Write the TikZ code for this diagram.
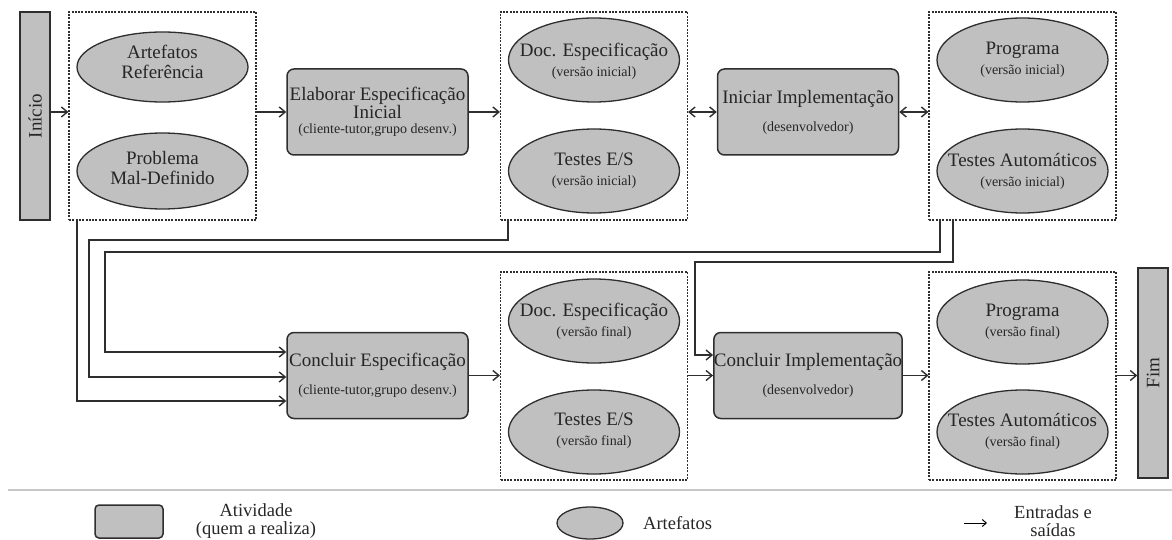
\documentclass[tikz,border=0pt]{standalone}
\usepackage{fontspec}
\setmainfont{Liberation Serif}
\usetikzlibrary{arrows.meta,shapes.geometric,calc}
\definecolor{boxgray}{HTML}{C0C0C0}
\definecolor{ink}{HTML}{2E2E2E}
\newcommand\mainsz{\fontsize{19}{20}\selectfont}
\newcommand\subsz{\fontsize{14}{16}\selectfont}
\newcommand\legsz{\fontsize{18.5}{18}\selectfont}

\begin{document}
\begin{tikzpicture}[x=1pt,y=-1pt,
  tip/.tip={Straight Barb[length=6pt,width=10pt]},
  arr/.style={draw=ink, line width=1.4pt, -tip},
  darr/.style={draw=ink, line width=1.4pt, tip-tip},
  link/.style={draw=ink, line width=1.4pt, -tip},
  group/.style={draw=ink, line width=1.1pt, dash pattern=on 2pt off 1.3pt,
    minimum width=187pt, minimum height=208pt, inner sep=0pt},
  artefact/.style={ellipse, draw=ink, line width=1.3pt, fill=boxgray,
    minimum width=171pt, minimum height=84pt, inner sep=0pt},
  atext/.style={align=center, font=\mainsz, inner sep=0pt, text=black!85},
  activity/.style={rectangle, rounded corners=7pt, draw=ink, line width=1.5pt, fill=boxgray,
    minimum width=181pt, minimum height=86pt, inner sep=0pt, align=center, font=\mainsz,
    text=black!85},
  bar/.style={rectangle, draw=ink, line width=1.4pt, fill=boxgray,
    minimum width=30pt, minimum height=208pt, inner sep=0pt, font=\mainsz, text=black!85},
  legtext/.style={align=center, font=\legsz, inner sep=0pt, text=black!85},
]
\useasboundingbox (0,0) rectangle (1172,540);

% start and end bars
\node[bar] (inicio) at (35,116) {\rotatebox{90}{Início}};
\node[bar, minimum height=210pt] (fim) at (1153,373) {\rotatebox{90}{Fim}};

% artefact groups
\node[group] (g1) at (162.5,116) {};
\node[group] (g2) at (594,116) {};
\node[group] (g3) at (1022.5,116) {};
\node[group] (g4) at (594,376) {};
\node[group] (g5) at (1022.5,376) {};

% artefacts (shape and caption kept apart so long captions do not widen the ellipse)
\node[artefact, minimum height=70pt] (artref) at (162.5,67) {};
\node[atext] (artreft) at (162.5,62) {Artefatos\\Referência};
\node[artefact, minimum height=76pt] (prob) at (162.5,171) {};
\node[atext] (probt) at (162.5,168) {Problema\\Mal-Definido};

\node[artefact] (docini) at (594,60) {};
\node[atext] (docinit) at (594,61) {Doc. Especificação\\{\subsz (versão inicial)}};
\node[artefact] (esini) at (594,171) {};
\node[atext] (esinit) at (594,171) {Testes E/S\\{\subsz (versão inicial)}};
\node[artefact] (progini) at (1022.5,60) {};
\node[atext] (proginit) at (1022.5,60) {Programa\\{\subsz (versão inicial)}};
\node[artefact] (autini) at (1022.5,171) {};
\node[atext] (autinit) at (1022.5,171) {Testes Automáticos\\{\subsz (versão inicial)}};

\node[artefact] (docfin) at (594,321) {};
\node[atext] (docfint) at (594,321) {Doc. Especificação\\{\subsz (versão final)}};
\node[artefact] (esfin) at (594,432) {};
\node[atext] (esfint) at (594,431) {Testes E/S\\{\subsz (versão final)}};
\node[artefact] (progfin) at (1022.5,322) {};
\node[atext] (progfint) at (1022.5,322) {Programa\\{\subsz (versão final)}};
\node[artefact] (autfin) at (1022.5,432) {};
\node[atext] (autfint) at (1022.5,431) {Testes Automáticos\\{\subsz (versão final)}};

% activities
\node[activity] (a1) at (377.5,112)
  {Elaborar Especificação\\[-2pt]Inicial\\[-5pt]{\subsz (cliente-tutor,grupo desenv.)}};
\node[activity] (a2) at (808,112)
  {Iniciar Implementação\\[8pt]{\subsz (desenvolvedor)}};
\node[activity] (a3) at (377.5,375.5)
  {Concluir Especificação\\[8pt]{\subsz (cliente-tutor,grupo desenv.)}};
\node[activity] (a4) at (808,375.5)
  {Concluir Implementação\\[8pt]{\subsz (desenvolvedor)}};

% top row flow
\draw[arr] (inicio.east |- a1.west) -- (g1.west |- a1.west);
\draw[arr] (g1.east |- a1.west) -- (a1.west);
\draw[arr] (a1.east) -- (g2.west |- a1.east);
\draw[darr] (g2.east |- a2.west) -- (a2.west);
\draw[darr] (a2.east) -- (g3.west |- a2.east);

% bottom row flow
\draw[arr] (a3.east) -- (g4.west |- a3.east);
\draw[arr] (g4.east |- a4.west) -- (a4.west);
\draw[arr] (a4.east) -- (g5.west |- a4.east);
\draw[arr] (g5.east |- a4.east) -- (fim.west |- a4.east);

% feedback links from the first row
\coordinate (k1) at (77,401);
\coordinate (k2a) at (508,240);
\coordinate (k2b) at (89,377);
\coordinate (k3a) at (940,252);
\coordinate (k3b) at (105,352);
\coordinate (k4a) at (953,262);
\coordinate (k4b) at (695,355);
\draw[link] (g1.south -| k1) -- (k1) -- (a3.west |- k1);
\draw[link] (g2.south -| k2a) -- (k2a) -| (k2b) -- (a3.west |- k2b);
\draw[link] (g3.south -| k3a) -- (k3a) -| (k3b) -- (a3.west |- k3b);
\draw[link] (g3.south -| k4a) -- (k4a) -| (k4b) -- (a4.west |- k4b);

% legend
\draw[draw=black!22, line width=1.2pt] (8,490) -- (1172,490);
\node[activity, minimum width=68pt, minimum height=33pt, rounded corners=4pt] (legact) at (129,521.5) {};
\node[legtext] (legacttext) at (256,521) {Atividade\\(quem a realiza)};
\node[artefact, minimum width=66pt, minimum height=32pt] (legart) at (590,523) {};
\node[legtext, anchor=west] (legarttext) at (643,523) {Artefatos};
\coordinate (legfrom) at (964,523);
\coordinate (legto) at (987,523);
\draw[draw=black, line width=1pt, -{Straight Barb[length=4pt,width=7pt]}] (legfrom) -- (legto);
\node[legtext] (legiotext) at (1053,521) {Entradas e\\saídas};
\end{tikzpicture}
\end{document}
